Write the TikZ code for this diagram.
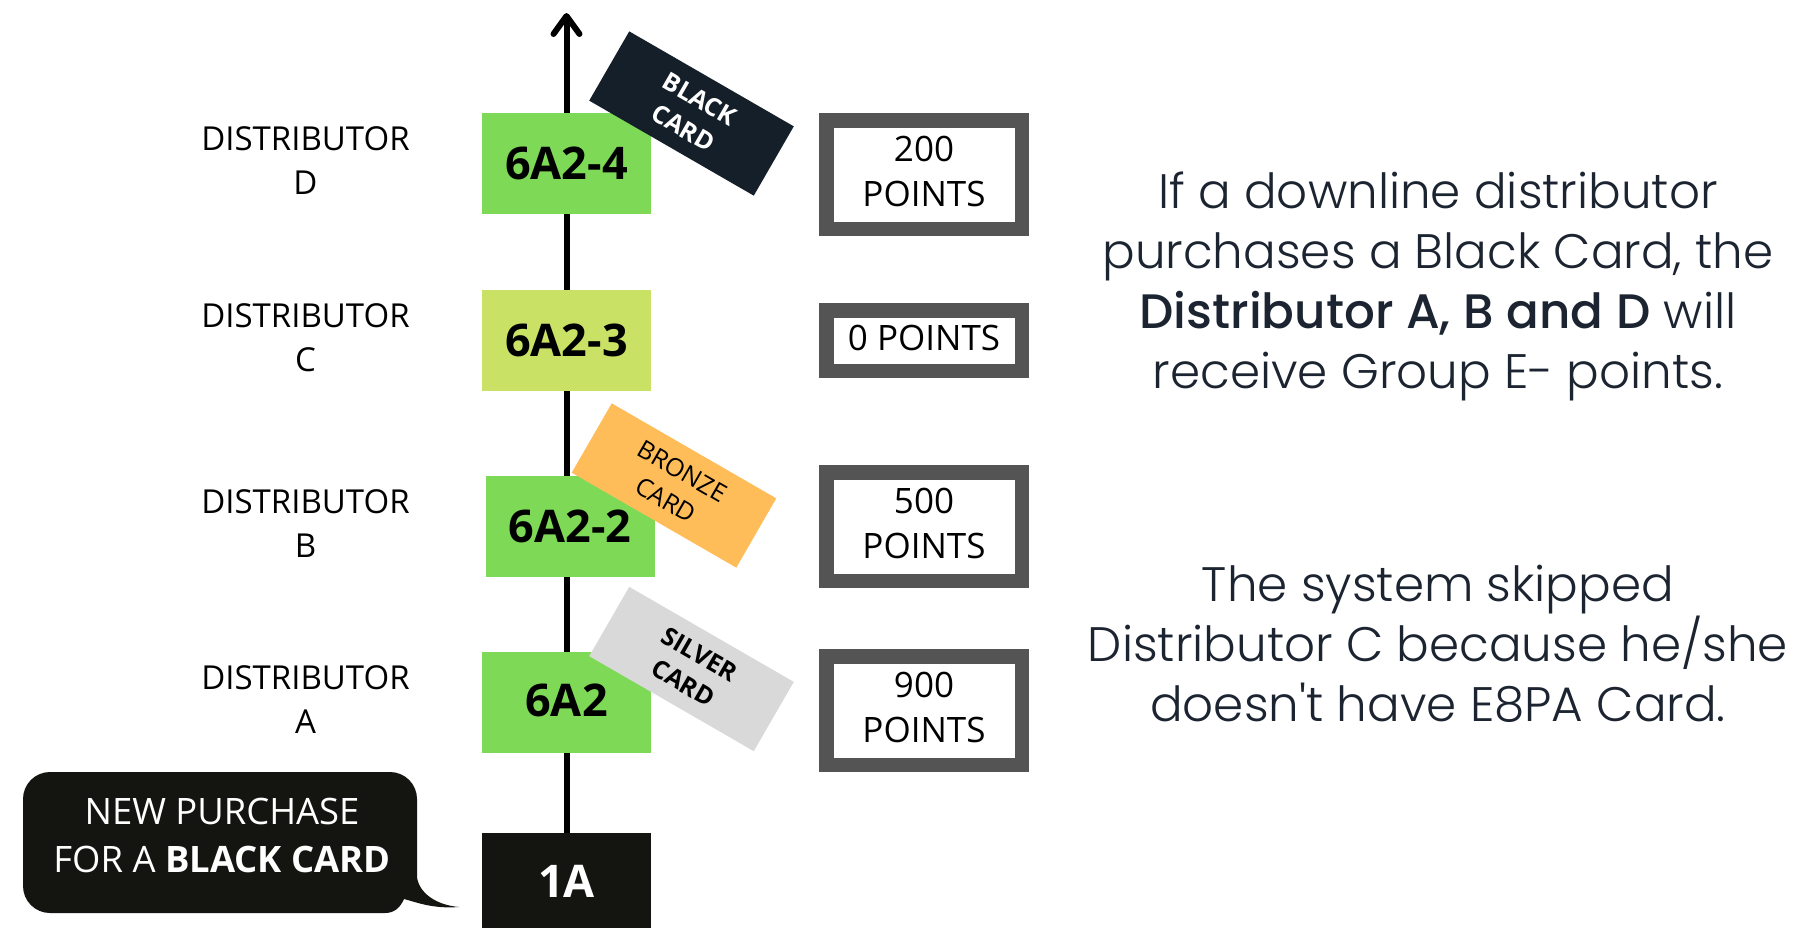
\documentclass[tikz,border=0pt]{standalone}
\usepackage{fontspec}
\setmainfont{Open Sans}
\newfontfamily\notefont{Poppins}[UprightFont=* Light,BoldFont=* Medium]
\usetikzlibrary{arrows.meta}

\definecolor{leafgreen}{HTML}{7ED957}
\definecolor{limegreen}{HTML}{C9E265}
\definecolor{inkblack}{HTML}{141410}
\definecolor{cardnavy}{HTML}{151F29}
\definecolor{cardbronze}{HTML}{FFBD59}
\definecolor{cardsilver}{HTML}{D9D9D9}
\definecolor{framegray}{HTML}{545454}
\definecolor{notecolor}{HTML}{1B2430}

\tikzset{
  level/.style={fill=leafgreen,minimum width=84.5pt,minimum height=50.5pt,inner sep=0pt,
    font=\bfseries\fontsize{22.5}{27}\selectfont},
  card/.style={rotate=-30,minimum width=95pt,minimum height=40pt,inner sep=0pt,align=center,
    font=\bfseries\fontsize{12.5}{16.5}\selectfont},
  points/.style={draw=framegray,line width=7.25pt,fill=white,minimum width=97.75pt,
    minimum height=54.25pt,inner sep=0pt,align=center,text depth=3pt,
    font=\fontsize{17.5}{22.5}\selectfont},
  who/.style={align=center,font=\fontsize{16.5}{22}\selectfont},
  note/.style={align=center,text=notecolor,font=\notefont\fontsize{24.2}{30}\selectfont},
}

\begin{document}
\begin{tikzpicture}[x=0.5pt,y=-0.5pt]

\useasboundingbox [fill=white] (0,0) rectangle (1814,927);

\node (root) [level,fill=inkblack,text=white,minimum height=53.5pt,text depth=5pt] at (566.5,886.5) {1A};
\coordinate (tip) at (566.5,13);

\path [draw,line width=3pt,-{Straight Barb[length=9pt,width=13pt,round]}]
    (root.north) -- (tip)
;

\node (lvlD) [level] at (566.5,163.5) {6A2-4};
\node (lvlC) [level,fill=limegreen] at (566.5,340.5) {6A2-3};
\node (lvlB) [level] at (570,526.5) {6A2-2};
\node (lvlA) [level,text depth=2pt] at (566.5,702) {6A2};

\node (cardD) [card,fill=cardnavy,text=white] at (691.5,113.5) {BLACK\\CARD};
\node (cardB) [card,fill=cardbronze,font=\fontsize{12.5}{16.5}\selectfont] at (674,485.5) {BRONZE\\CARD};
\node (cardA) [card,fill=cardsilver] at (691.5,669) {SILVER\\CARD};

\node (whoD) [who] at (305.5,161) {DISTRIBUTOR\\D};
\node (whoC) [who] at (305.5,338) {DISTRIBUTOR\\C};
\node (whoB) [who] at (305.5,524) {DISTRIBUTOR\\B};
\node (whoA) [who] at (305.5,699.5) {DISTRIBUTOR\\A};

\node (ptsD) [points] at (924,174.5) {200\\POINTS};
\node (ptsC) [points,minimum height=30.25pt] at (924,340.5) {0 POINTS};
\node (ptsB) [points] at (924,526.5) {500\\POINTS};
\node (ptsA) [points] at (924,710.5) {900\\POINTS};

\fill [inkblack] (50,772) -- (390,772) arc (-90:0:27) -- (417,877)
    .. controls (419,893) and (436,905) .. (459,907)
    .. controls (432,909) and (416,902) .. (404,899)
    .. controls (400,908) and (394,913) .. (385,913)
    -- (50,913) arc (90:180:27) -- (23,799) arc (180:270:27) -- cycle;
\node (bubble) [align=center,text=white,font=\fontsize{18.2}{24}\selectfont] at (222,835)
    {NEW PURCHASE\\FOR A \textbf{BLACK CARD}};

\node (noteTop) [note] at (1438,286)
    {If a downline distributor\\purchases a Black Card, the\\\textbf{Distributor A, B and D} will\\receive Group E- points.};
\node (noteLow) [note] at (1438,643.5)
    {The system skipped\\Distributor C because he/she\\doesn't have E8PA Card.};

\end{tikzpicture}
\end{document}
